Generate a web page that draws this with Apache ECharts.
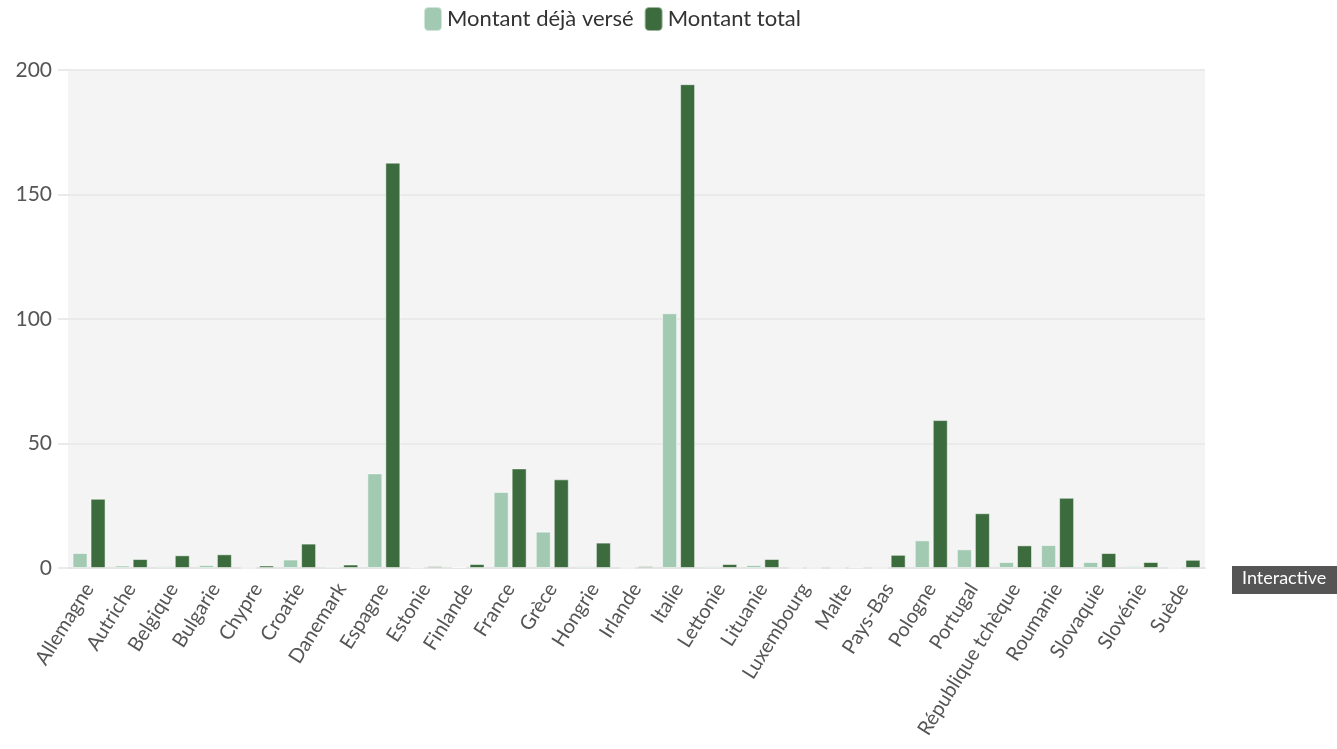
<!DOCTYPE html>
<html>
<head>
<meta charset="utf-8">
<script src="https://cdn.jsdelivr.net/npm/echarts@6/dist/echarts.min.js"></script>
<style>
html,body{margin:0;padding:0;background:#fff;}
#chart{width:1337px;height:749px;}
</style>
</head>
<body>
<div id="chart"></div>
<script>
const categories = ["Allemagne","Autriche","Belgique","Bulgarie","Chypre","Croatie","Danemark","Espagne","Estonie","Finlande","France","Grèce","Hongrie","Irlande","Italie","Lettonie","Lituanie","Luxembourg","Malte","Pays-Bas","Pologne","Portugal","République tchèque","Roumanie","Slovaquie","Slovénie","Suède"];
const dejaVerse = [6.0,1.0,0.7,1.2,0,3.4,0.6,38.0,0.2,0.4,30.5,14.6,0.7,0,102.3,0.7,1.2,0,0,0,11.1,7.5,2.4,9.2,2.4,0.8,0];
const montantTotal = [27.8,3.6,5.1,5.5,1.0,9.8,1.4,162.8,0.7,1.6,40.0,35.6,10.2,0.7,194.3,1.6,3.6,0,0.2,5.3,59.4,22.0,9.1,28.2,6.0,2.4,3.3];
const yTicks = [0,50,100,150,200];
const seriesNames = ["Montant déjà versé","Montant total"];

const FONT = "Lato, 'Open Sans', sans-serif";
const chart = echarts.init(document.getElementById('chart'), null, {renderer:'canvas'});
chart.setOption({
  animation:false,
  textStyle:{fontFamily:FONT},
  legend:{
    top:1, left:418,
    itemWidth:18, itemHeight:24, itemGap:10,
    icon:'roundRect',
    textStyle:{fontSize:22, color:'#333', fontFamily:FONT},
    data:seriesNames
  },
  grid:{left:68, right:132, top:70, bottom:181, show:true, backgroundColor:'#f4f4f4', borderWidth:0},
  xAxis:{
    type:'category', data:categories,
    axisLine:{lineStyle:{color:'#e4e4e4', width:2}},
    axisTick:{alignWithLabel:true, length:11, lineStyle:{color:'#e4e4e4', width:2}},
    axisLabel:{rotate:58, fontSize:20, color:'#555', margin:17, interval:0, fontFamily:FONT}
  },
  yAxis:{
    type:'value', min:yTicks[0], max:yTicks[yTicks.length-1], interval:50,
    axisLine:{show:false},
    axisTick:{show:true, length:10, lineStyle:{color:'#eaeaea', width:2}},
    splitLine:{lineStyle:{color:'#eaeaea', width:2}},
    axisLabel:{fontSize:21, color:'#555', margin:16, fontFamily:FONT}
  },
  series:[
    {name:seriesNames[0], type:'bar', data:dejaVerse, barWidth:15, barGap:'20%',
     itemStyle:{color:'#a2c9b1', borderColor:'rgba(255,255,255,0.5)', borderWidth:1}},
    {name:seriesNames[1], type:'bar', data:montantTotal, barWidth:15,
     itemStyle:{color:'#3c6b3d', borderColor:'rgba(255,255,255,0.5)', borderWidth:1}}
  ],
  graphic:[
    {type:'rect', left:1232, top:566, shape:{width:110, height:28}, style:{fill:'#555555'}},
    {type:'text', left:1242, top:569, style:{text:'Interactive', fill:'#fff', font:'18px '+FONT}}
  ]
});
</script>
</body>
</html>
